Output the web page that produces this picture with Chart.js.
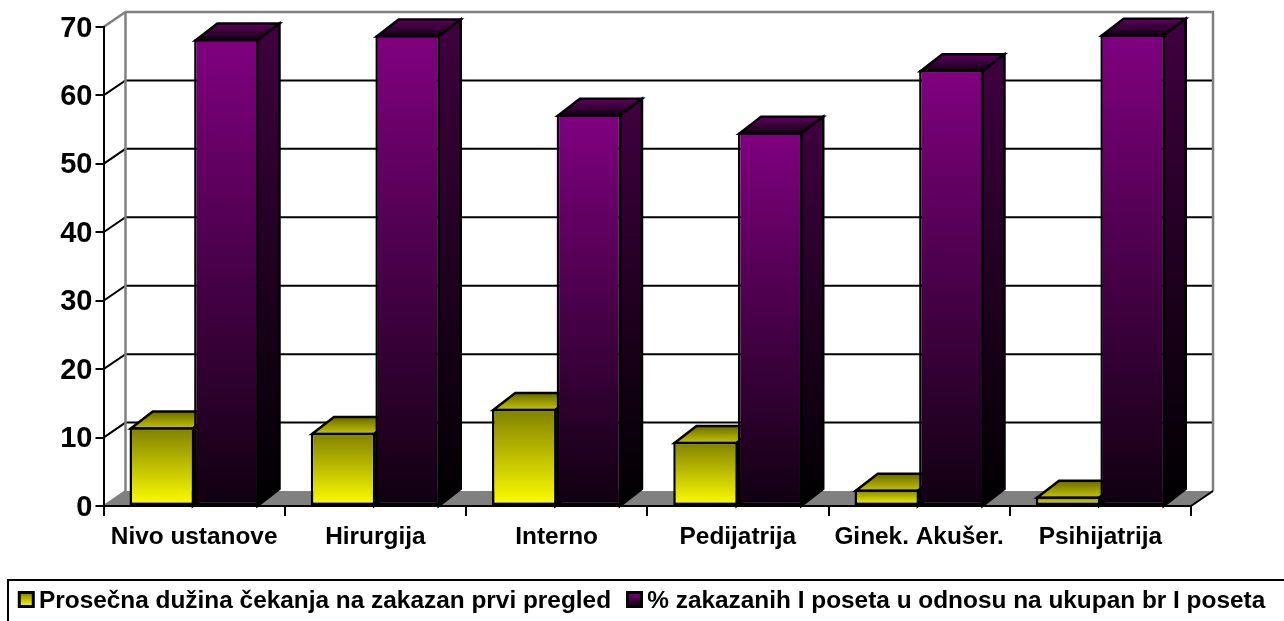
<!DOCTYPE html>
<html><head><meta charset="utf-8">
<style>html,body{margin:0;padding:0;background:#fff;overflow:hidden}canvas{display:block}</style>
<script src="https://cdn.jsdelivr.net/npm/chart.js@4"></script>
</head><body><canvas id="c" width="1284" height="621"></canvas>
<script>
const categories = ["Nivo ustanove","Hirurgija","Interno","Pedijatrija","Ginek. Akušer.","Psihijatrija"];
const waitValues = [11.5,10.7,14.2,9.4,2.4,1.4];
const shareValues = [68.2,68.8,57.2,54.6,63.7,68.9];
const seriesNames = ["Prosečna dužina čekanja na zakazan prvi pregled","% zakazanih I poseta u odnosu na ukupan br I poseta"];

const FONT = '"Liberation Sans", Arial, sans-serif';
const WALL = {dx:22, dy:15}, BAR = {dx:22, dy:17};
const GRAY = '#808080';
const EDGE = 2.5;

function line(c, pts, color, w){
  c.save(); c.strokeStyle=color; c.lineWidth=w; c.lineJoin='miter'; c.lineCap='butt';
  c.beginPath(); pts.forEach((p,i)=> i?c.lineTo(p[0],p[1]):c.moveTo(p[0],p[1])); c.stroke(); c.restore();
}
function vgrad(c, yTop, yBot, top, bot){
  const g=c.createLinearGradient(0,yTop,0,yBot); g.addColorStop(0,top); g.addColorStop(1,bot); return g;
}
function frontFill(top,bot){
  return ctx=>{
    if(ctx.type!=='data') return bot;
    const s=ctx.chart.scales.y;
    return vgrad(ctx.chart.ctx, s.getPixelForValue(ctx.raw), s.getPixelForValue(0), top, bot);
  };
}
const styles = [
  {topBack:'#6a6a00', topFront:'#c4c400', sideTop:'#555500', sideBot:'#000000', swTop:'#808000', swBot:'#ffff00'},
  {topBack:'#600060', topFront:'#100010', sideTop:'#400040', sideBot:'#000000', swTop:'#800080', swBot:'#100010'}
];
function faces(chart, i){
  const c=chart.ctx, st=styles[i], meta=chart.getDatasetMeta(i);
  const base=chart.scales.y.getPixelForValue(0), h=EDGE/2;
  meta.data.forEach(b=>{
    const l=b.x-b.width/2+h, r=b.x+b.width/2-h, t=b.y+h;
    c.save(); c.strokeStyle='#000'; c.lineWidth=EDGE; c.lineJoin='miter';
    c.fillStyle=vgrad(c,t-BAR.dy,t,st.topBack,st.topFront);
    c.beginPath(); c.moveTo(l,t); c.lineTo(l+BAR.dx,t-BAR.dy); c.lineTo(r+BAR.dx,t-BAR.dy); c.lineTo(r,t); c.closePath(); c.fill(); c.stroke();
    c.fillStyle=vgrad(c,t-BAR.dy,base,st.sideTop,st.sideBot);
    c.beginPath(); c.moveTo(r,t); c.lineTo(r+BAR.dx,t-BAR.dy); c.lineTo(r+BAR.dx,base-BAR.dy); c.lineTo(r,base); c.closePath(); c.fill(); c.stroke();
    c.restore();
  });
}

const room = {
  id:'room',
  beforeDraw(chart){
    const c=chart.ctx, y=chart.scales.y, x=chart.scales.x;
    const L=x.left, R=x.right, B=y.getPixelForValue(0), T=y.getPixelForValue(70);
    const bl=L+WALL.dx, br=R+WALL.dx, by=B-WALL.dy, ty=T-WALL.dy;
    c.save();
    c.fillStyle='#fff'; c.fillRect(0,0,chart.width,chart.height);
    c.fillStyle=GRAY; c.beginPath(); c.moveTo(L,B); c.lineTo(bl,by); c.lineTo(br,by); c.lineTo(R,B); c.closePath(); c.fill();
    c.restore();
    y.ticks.forEach(t=>{
      if(t.value===0||t.value===70) return;
      const p=y.getPixelForValue(t.value);
      line(c,[[L,p],[bl,p-WALL.dy],[br,p-WALL.dy]],'#000',2);
    });
    line(c,[[L,T],[bl,ty],[br,ty],[br,by]],GRAY,2.5);
    line(c,[[bl,ty],[bl,by]],GRAY,2.5);
    line(c,[[L,B],[bl,by]],GRAY,2);
    line(c,[[R,B],[br,by]],'#000',2);
  },
  // the first dataset is painted last by the library, so its depth faces go in before the second dataset's bars
  beforeDatasetDraw(chart,args){
    if(args.index===1){ faces(chart,0); faces(chart,1); }
  },
  afterDraw(chart){
    const c=chart.ctx, lg=chart.legend, top=lg.top+7;
    line(c,[[8,chart.height+2],[8,top],[chart.width+2,top]],'#000',2);
    lg.legendHitBoxes.forEach((h,i)=>{
      const st=styles[i], sx=h.left+0.5, sy=top+12.5, s=14;
      c.save();
      c.fillStyle=vgrad(c,sy,sy+s,st.swTop,st.swBot);
      c.strokeStyle='#000'; c.lineWidth=3;
      c.beginPath(); c.rect(sx,sy,s,s); c.fill(); c.stroke();
      c.restore();
    });
  }
};

new Chart(document.getElementById('c'),{
  type:'bar',
  data:{labels:categories,datasets:[
    {label:seriesNames[0],data:waitValues,backgroundColor:frontFill('#808000','#ffff00'),borderColor:'#000',borderWidth:EDGE,borderSkipped:false,barPercentage:1,categoryPercentage:0.713},
    {label:seriesNames[1],data:shareValues,backgroundColor:frontFill('#800080','#100010'),borderColor:'#000',borderWidth:EDGE,borderSkipped:false,barPercentage:1,categoryPercentage:0.713}
  ]},
  options:{
    responsive:false,animation:false,
    layout:{padding:{top:27,left:0,right:0,bottom:-2.4}},
    scales:{
      x:{
        grid:{offset:true,drawOnChartArea:false,color:'#000',lineWidth:2,tickLength:10},
        border:{color:'#000',width:2},
        ticks:{color:'#000',font:{family:FONT,size:24.4,weight:'bold'},padding:7,maxRotation:0,autoSkip:false},
        afterFit(s){s.height=67;}
      },
      y:{
        min:0,max:70,
        grid:{drawOnChartArea:false,color:'#000',lineWidth:2,tickLength:8},
        border:{color:'#000',width:2},
        ticks:{stepSize:10,color:'#000',font:{family:FONT,size:29,weight:'bold'},padding:3,labelOffset:1.5},
        afterFit(s){s.width=103.5;}
      },
      r:{
        type:'linear',position:'right',display:true,
        grid:{display:false},border:{display:false},ticks:{display:false},
        afterFit(s){s.width=93;}
      }
    },
    plugins:{
      tooltip:{enabled:false},
      legend:{
        position:'bottom',
        labels:{
          color:'#000',boxWidth:8,boxHeight:14,padding:16,
          font:{family:FONT,size:24.4,weight:'bold'},
          generateLabels(){
            return seriesNames.map((n,i)=>({text:n,fillStyle:'rgba(0,0,0,0)',strokeStyle:'rgba(0,0,0,0)',lineWidth:0,datasetIndex:i}));
          }
        }
      }
    }
  },
  plugins:[room]
});
</script></body></html>
